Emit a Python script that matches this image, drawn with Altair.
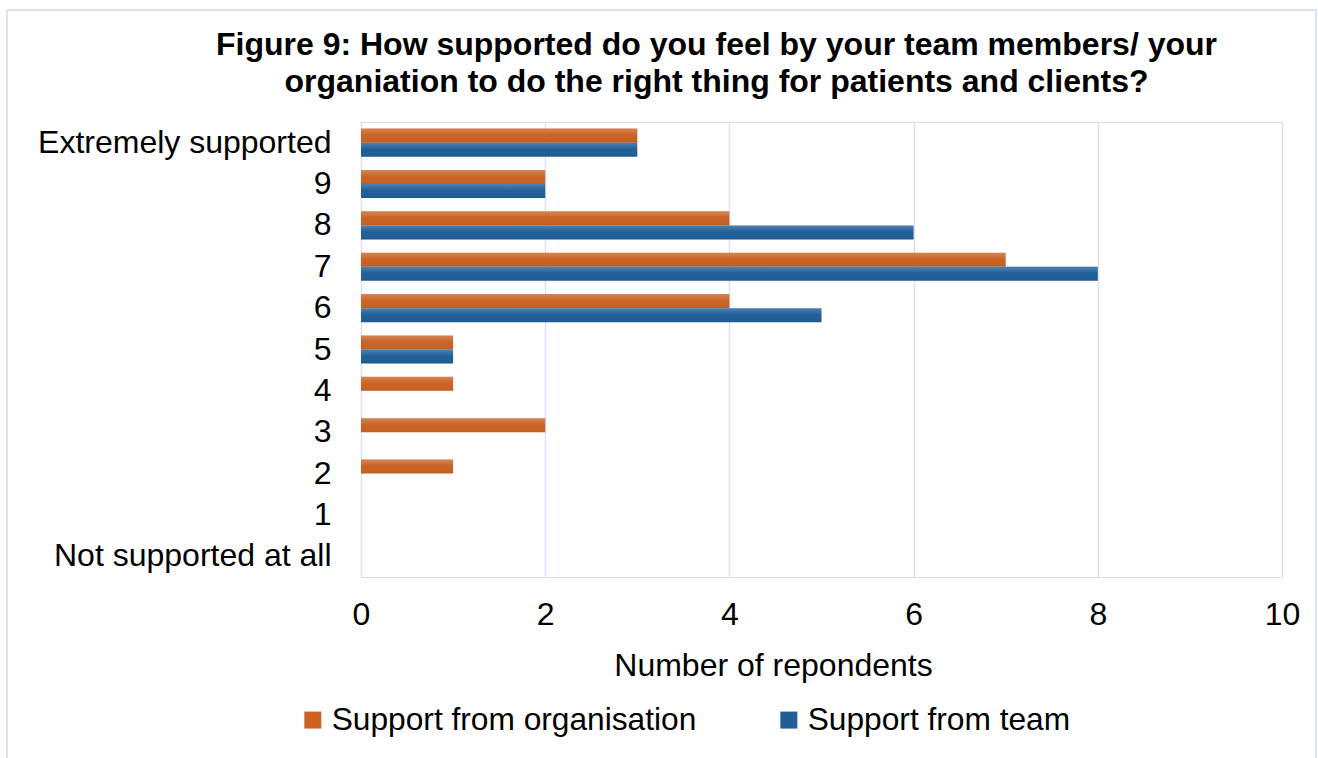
import altair as alt
import pandas as pd

categories = ["Extremely supported", "9", "8", "7", "6", "5", "4", "3", "2", "1", "Not supported at all"]
series_names = ["Support from organisation", "Support from team"]
organisation = [3, 2, 4, 7, 4, 1, 1, 2, 1, 0, 0]
team = [3, 2, 6, 8, 5, 1, 0, 0, 0, 0, 0]
x_ticks = [0, 2, 4, 6, 8, 10]
colors = ["#CA6222", "#1F5E97"]

rows = []
for c, o, t in zip(categories, organisation, team):
    rows.append({"category": c, "series": series_names[0], "value": o})
    rows.append({"category": c, "series": series_names[1], "value": t})
df = pd.DataFrame(rows)

FONT = "Liberation Sans"
FS = 32

y_enc = alt.Y("category:N", sort=categories, title=None,
              scale=alt.Scale(paddingInner=0.32, paddingOuter=0.16),
              axis=alt.Axis(labelFontSize=FS, labelColor="#000000", labelPadding=30, labelLimit=0,
                            ticks=False, domain=False, grid=False, labelFont=FONT))
yoff_enc = alt.YOffset("series:N", scale=alt.Scale(domain=series_names, paddingInner=0, paddingOuter=0))
x_enc = alt.X("value:Q", title="Number of repondents",
              scale=alt.Scale(domain=[0, 10], nice=False),
              axis=alt.Axis(values=x_ticks, format="d", labelFontSize=FS, labelColor="#000000",
                            labelPadding=22, labelFlush=False, ticks=False, domain=False, grid=True,
                            gridColor="#D9E2F0", gridWidth=1.5,
                            titleFontSize=FS, titleFontWeight="normal", titleColor="#000000",
                            titlePadding=20, labelFont=FONT, titleFont=FONT, titleX=412))

base = alt.Chart(df).mark_bar().encode(
    x=x_enc, y=y_enc, yOffset=yoff_enc,
    color=alt.Color("series:N", scale=alt.Scale(domain=series_names, range=colors),
                    legend=alt.Legend(title=None, orient="none", direction="horizontal",
                                      legendX=-64, legendY=582, symbolType="square",
                                      symbolSize=289, labelFontSize=31.7, labelFont=FONT,
                                      labelColor="#000000", labelOffset=3, columnPadding=76,
                                      labelLimit=0, symbolStrokeWidth=0))
)

sheen = alt.Chart(df).mark_bar(
    fill=alt.Gradient(gradient="linear", x1=0, x2=0, y1=0, y2=1,
                      stops=[alt.GradientStop(color="rgba(255,255,255,0.22)", offset=0),
                             alt.GradientStop(color="rgba(255,255,255,0.0)", offset=0.5),
                             alt.GradientStop(color="rgba(0,0,0,0.06)", offset=1)])
).encode(x="value:Q", y=alt.Y("category:N", sort=categories), yOffset="series:N")

border = alt.Chart(pd.DataFrame({"a": [0]})).mark_rect(
    fill=None, stroke="#DCE4F2", strokeWidth=2
).encode(x=alt.value(-354), x2=alt.value(955), y=alt.value(-112), y2=alt.value(660))

chart = alt.layer(border, base, sheen).properties(
    width=921, height=455,
    title=alt.TitleParams(
        ["Figure 9: How supported do you feel by your team members/ your",
         "organiation to do the right thing for patients and clients?"],
        fontSize=32, font=FONT, fontWeight="bold", color="#000000",
        anchor="middle", frame="group", dx=-105, offset=0, dy=90, lineHeight=37),
    autosize=alt.AutoSizeParams(type="none"),
    padding={"left": 361, "top": 122, "right": 36, "bottom": 181},
).configure_view(stroke=None).configure(background="#FFFFFF")

chart.save("out.html", embed_options={"renderer": "svg", "actions": False})
